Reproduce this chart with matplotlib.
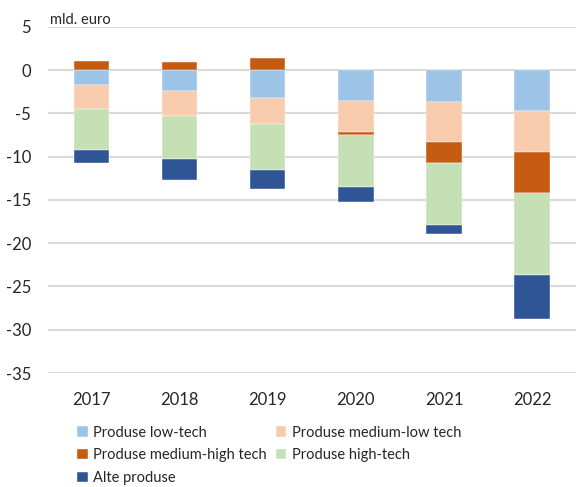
import matplotlib.pyplot as plt
import numpy as np

plt.rcParams['font.family'] = ['Lato', 'DejaVu Sans']
plt.rcParams['axes.unicode_minus'] = False

years = ["2017", "2018", "2019", "2020", "2021", "2022"]

low_tech = [-1.75, -2.4, -3.2, -3.55, -3.7, -4.75]
medium_low = [-2.75, -2.85, -3.05, -3.65, -4.65, -4.75]
medium_high = [1.1, 0.9, 1.45, -0.25, -2.35, -4.7]
high_tech = [-4.7, -5.0, -5.35, -6.1, -7.2, -9.45]
alte = [-1.5, -2.45, -2.1, -1.65, -1.05, -5.05]

labels = ["Produse low-tech", "Produse medium-low tech", "Produse medium-high tech",
          "Produse high-tech", "Alte produse"]
colors = ["#9DC3E6", "#F8CBAD", "#C55A11", "#C5E0B4", "#2F5597"]

fig = plt.figure(figsize=(5.76, 4.87), dpi=100)
ax = fig.add_axes([0.083, 0.234, 0.917, 0.711])

x = np.arange(len(years))
w = 0.4
series = [low_tech, medium_low, medium_high, high_tech, alte]

# stack positives up and negatives down, in series order
pos = np.zeros(len(years))
neg = np.zeros(len(years))
handles = []
for vals, lab, col in zip(series, labels, colors):
    vals = np.array(vals)
    bottom = np.where(vals >= 0, pos, neg)
    b = ax.bar(x, vals, w, bottom=bottom, color=col, label=lab,
               edgecolor="white", linewidth=0.3, zorder=3)
    handles.append(b)
    pos += np.where(vals >= 0, vals, 0)
    neg += np.where(vals < 0, vals, 0)

ax.set_xlim(-0.5, 5.5)
ax.set_ylim(-35, 5)
ax.set_yticks(range(-35, 6, 5))
ax.set_xticks(x)
ax.set_xticklabels(years)
ax.yaxis.grid(True, color="#D9D9D9", linewidth=1.5, zorder=0)
ax.set_axisbelow(True)
for s in ax.spines.values():
    s.set_visible(False)
ax.tick_params(length=0, labelsize=12, colors="#262626")
ax.tick_params(axis="x", pad=14)
ax.tick_params(axis="y", pad=12)

fig.text(0.087, 0.95, "mld. euro", fontsize=10.5, color="#262626")

order = [0, 2, 4, 1, 3]
ax.legend([handles[i] for i in order], [labels[i] for i in order],
          ncol=2, loc="upper left", bbox_to_anchor=(0.045, -0.135),
          frameon=False, fontsize=10.5, handlelength=0.7, handleheight=0.7,
          handletextpad=0.4, columnspacing=0.6, labelspacing=0.6,
          borderaxespad=0, labelcolor="#262626")

fig.savefig("out.png", dpi=100)
